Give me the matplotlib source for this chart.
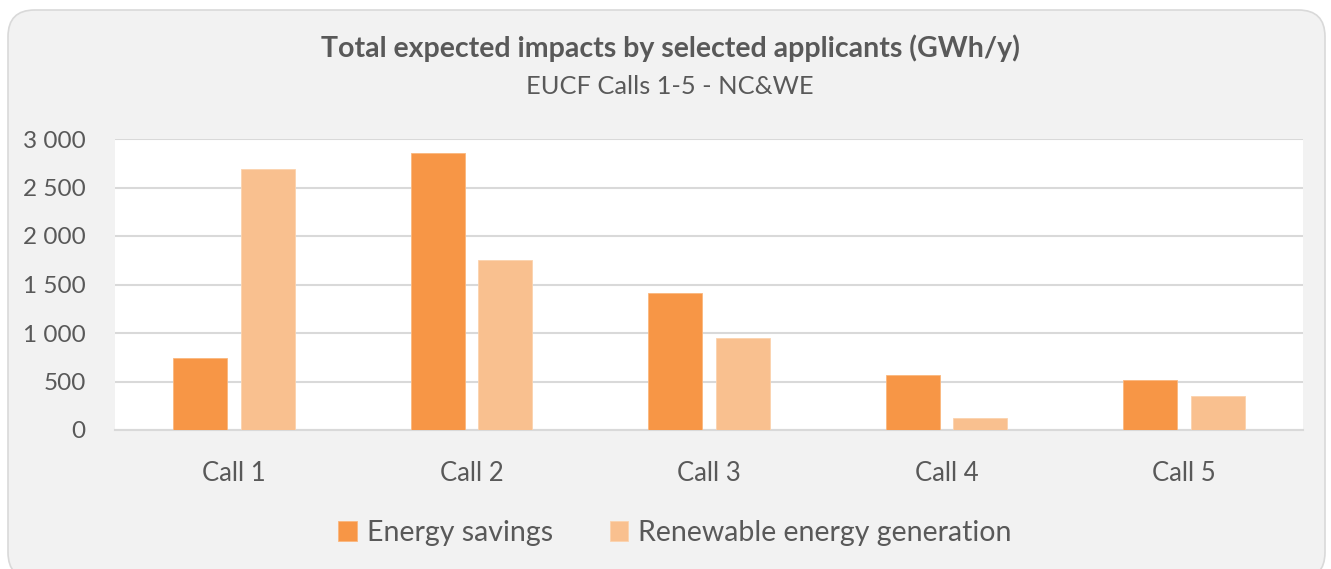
import matplotlib
matplotlib.use("Agg")
import matplotlib.pyplot as plt
import numpy as np
from matplotlib.patches import FancyBboxPatch
from matplotlib.ticker import FuncFormatter

categories = ["Call 1", "Call 2", "Call 3", "Call 4", "Call 5"]
energy_savings = [739, 2852, 1416, 570, 515]
renewable_generation = [2688, 1753, 952, 124, 350]
series_names = ["Energy savings", "Renewable energy generation"]
yticks = [0, 500, 1000, 1500, 2000, 2500, 3000]

c_energy = "#F79646"
c_renew = "#F9C08F"
text_col = "#595959"
grid_col = "#D9D9D9"

W, H = 1331, 569
fig = plt.figure(figsize=(W / 100, H / 100), dpi=100)
fig.patch.set_facecolor("white")

# outer rounded panel
panel = FancyBboxPatch((8 / W, -10 / H), (1317) / W, (569) / H,
                       boxstyle="round,pad=0,rounding_size=0.02",
                       transform=fig.transFigure, facecolor="#F2F2F2",
                       edgecolor="#D9D9D9", linewidth=1.2, mutation_aspect=W / H,
                       zorder=-5)
fig.patches.append(panel)

fam = ["Lato", "DejaVu Sans"]
fig.text(670 / W, 1 - 48 / H, "Total expected impacts by selected applicants (GWh/y)",
         ha="center", va="center", fontsize=20.5, fontweight="bold", color=text_col, family=fam)
fig.text(670 / W, 1 - 86 / H, "EUCF Calls 1-5 - NC&WE",
         ha="center", va="center", fontsize=18.3, color=text_col, family=fam, fontweight="normal")

ax = fig.add_axes([115 / W, 1 - 430 / H, (1303 - 115) / W, (430 - 139) / H])
ax.set_zorder(2)
ax.set_facecolor("white")
x = np.arange(len(categories))
bw = 0.227
off = 0.142
ax.bar(x - off, energy_savings, bw, color=c_energy, edgecolor="#FBB77E", linewidth=0.6,
       label=series_names[0], zorder=3)
ax.bar(x + off, renewable_generation, bw, color=c_renew, edgecolor="#FCD3AE", linewidth=0.6,
       label=series_names[1], zorder=3)

ax.set_xlim(-0.5, len(categories) - 0.5)
ax.set_ylim(0, 3000)
ax.set_yticks(yticks)
ax.yaxis.set_major_formatter(FuncFormatter(lambda v, p: f"{int(v):,}".replace(",", " ")))
ax.set_xticks(x)
ax.set_xticklabels(categories)
ax.grid(axis="y", color=grid_col, linewidth=1.5, zorder=0)
ax.set_axisbelow(True)
for s in ["top", "right", "left"]:
    ax.spines[s].set_visible(False)
ax.spines["bottom"].set_color(grid_col)
ax.spines["bottom"].set_linewidth(1.5)
ax.tick_params(axis="both", length=0, colors=text_col)
ax.tick_params(axis="y", pad=21, labelsize=17.5)
ax.tick_params(axis="x", pad=22, labelsize=18.5)
for lab in ax.get_xticklabels() + ax.get_yticklabels():
    lab.set_family(fam)
    lab.set_fontweight("normal")

leg = fig.legend(loc="center", bbox_to_anchor=(675 / W, 1 - 533 / H), ncol=2, frameon=False,
                 prop={"family": fam, "size": 20.5, "weight": "normal"},
                 handlelength=0.65, handleheight=0.65, handletextpad=0.35, columnspacing=2.0)
for t in leg.get_texts():
    t.set_color(text_col)

fig.savefig("out.png", dpi=100, facecolor="white")
